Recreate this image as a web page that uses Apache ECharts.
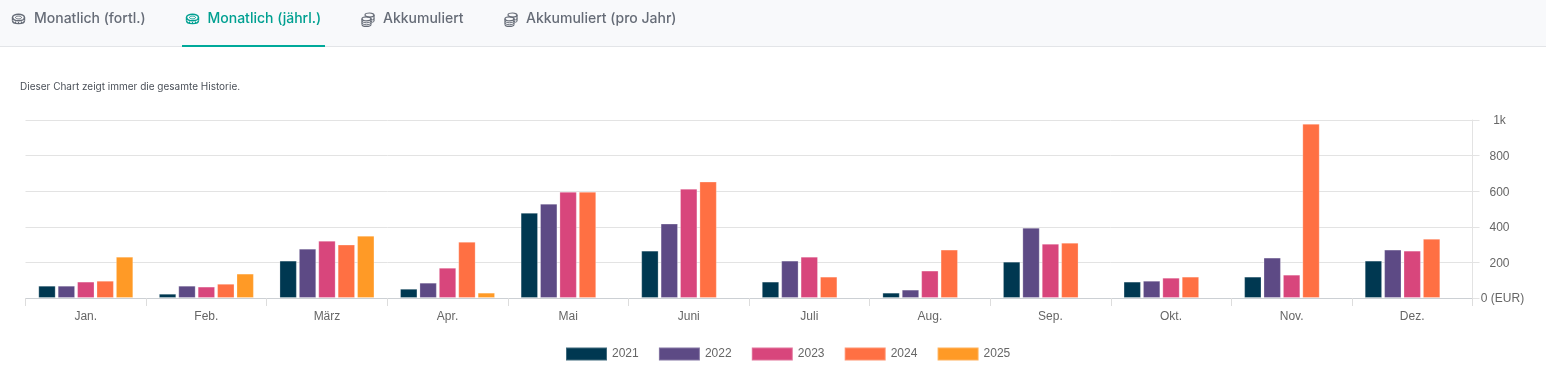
<!DOCTYPE html>
<html><head><meta charset="utf-8">
<style>html,body{margin:0;padding:0;background:#fff}#c{width:1546px;height:385px}</style>
<script src="https://cdn.jsdelivr.net/npm/echarts@6/dist/echarts.min.js"></script>
</head><body><div id="c"></div>
<script>
const categories = ['Jan.','Feb.','März','Apr.','Mai','Juni','Juli','Aug.','Sep.','Okt.','Nov.','Dez.'];
const s2021 = [69,24,210,52,479,266,92,30,204,92,120,210];
const s2022 = [69,69,277,86,530,418,210,47,395,97,227,272];
const s2023 = [92,64,322,170,597,614,232,154,305,114,131,266];
const s2024 = [97,80,300,316,597,654,120,272,311,120,979,333];
const s2025 = [232,137,350,30,null,null,null,null,null,null,null,null];
const years = ['2021','2022','2023','2024','2025'];
const colors = ['#003851','#5d4a85','#d8467c','#ff7043','#ff9a26'];
const tabs = ['Monatlich (fortl.)','Monatlich (jährl.)','Akkumuliert','Akkumuliert (pro Jahr)'];
const note = 'Dieser Chart zeigt immer die gesamte Historie.';

const FONT = 'Inter';
const st=(col,w)=>({fill:'none',stroke:col,lineWidth:w});
const ell=(cx,cy,rx,ry,col,w)=>({type:'ellipse',shape:{cx,cy,rx,ry},style:st(col,w)});
const ln=(x1,y1,x2,y2,col,w)=>({type:'line',shape:{x1,y1,x2,y2},style:st(col,w)});
const cup=(x1,x2,y,d,col,w)=>({type:'bezierCurve',shape:{x1,y1:y,x2,y2:y,cpx1:x1,cpy1:y+d,cpx2:x2,cpy2:y+d},style:st(col,w)});
const coin=(x,col)=>({type:'group',x:x,y:19,silent:true,children:[
  ell(0,-1.5,6,3.2,col,1.4),ell(0,-1.5,3,1.4,col,1),
  ln(-6,-1.5,-6,1.5,col,1.4),ln(6,-1.5,6,1.5,col,1.4),cup(-6,6,1.5,4.2,col,1.4),
  ln(-3,2.5,-3,4,col,1),ln(0,3,0,4.6,col,1),ln(3,2.5,3,4,col,1)
]});
const stack=(x,col)=>({type:'group',x:x,y:19,silent:true,children:[
  ell(1.5,-4,4.5,2,col,1.2),ln(6,-4,6,2,col,1.2),cup(3,6,-.4,1.6,col,1),cup(3,6,2,1.6,col,1),
  ell(-1.5,-.2,4.5,2,col,1.2),ln(-6,-.2,-6,5.5,col,1.2),ln(3,-.2,3,5.5,col,1.2),
  cup(-6,3,1.8,2.6,col,1),cup(-6,3,3.8,2.6,col,1),cup(-6,3,5.5,2.6,col,1.2)
]});
const GREY='#666c77', TEAL='#00a091';
const graphics = [
  {type:'rect',silent:true,z:0,shape:{x:0,y:0,width:1546,height:46},style:{fill:'#f8f9fb'}},
  {type:'rect',silent:true,z:0,shape:{x:0,y:46,width:1546,height:1},style:{fill:'#e3e5e8'}},
  {type:'rect',silent:true,z:1,shape:{x:182,y:45,width:143,height:2},style:{fill:'#00a99a'}},
  coin(18.5,GREY),coin(192.5,TEAL),stack(368,GREY),stack(511,GREY),
  {type:'text',silent:true,x:34,y:19,style:{text:tabs[0],font:'500 14px '+FONT,fill:GREY,verticalAlign:'middle'}},
  {type:'text',silent:true,x:207.5,y:19,style:{text:tabs[1],font:'500 14px '+FONT,fill:TEAL,verticalAlign:'middle'}},
  {type:'text',silent:true,x:383,y:19,style:{text:tabs[2],font:'500 14px '+FONT,fill:GREY,verticalAlign:'middle'}},
  {type:'text',silent:true,x:526,y:19,style:{text:tabs[3],font:'500 14px '+FONT,fill:GREY,verticalAlign:'middle'}},
  {type:'text',silent:true,x:20,y:87,style:{text:note,font:'400 10px '+FONT,fill:'#4a5058',verticalAlign:'middle'}}
];
const all=[s2021,s2022,s2023,s2024,s2025];
const chart = echarts.init(document.getElementById('c'));
chart.setOption({
  animation:false,
  textStyle:{fontFamily:'"Liberation Sans", Arial, sans-serif'},
  graphic:graphics,
  legend:{
    top:341.5,left:560,itemWidth:41,itemHeight:13,itemGap:19.2,icon:'rect',selectedMode:false,
    data:years,textStyle:{color:'#666',fontSize:12,fontFamily:'"Liberation Sans"'}
  },
  grid:{left:25.5,right:73.5,top:120,bottom:87,containLabel:false},
  xAxis:{type:'category',data:categories,boundaryGap:true,
    axisLine:{lineStyle:{color:'#ccd0d4',width:1}},
    axisTick:{show:true,alignWithLabel:false,length:8,lineStyle:{color:'#ddd'}},
    axisLabel:{color:'#666',fontSize:12,margin:13,fontFamily:'"Liberation Sans"'}},
  yAxis:{type:'value',position:'right',min:0,max:1000,interval:200,
    axisLine:{show:true,lineStyle:{color:'#e3e3e3'}},
    axisTick:{show:true,length:7,lineStyle:{color:'#e3e3e3'}},
    splitLine:{lineStyle:{color:'#e3e3e3'}},
    axisLabel:{color:'#666',fontSize:12,margin:27,align:'center',fontFamily:'"Liberation Sans"',
      padding:[2,0,0,0],
      formatter:v=>v===0?'{z|0 (EUR)}':v===1000?'1k':String(v),
      rich:{z:{color:'#666',fontSize:12,fontFamily:'"Liberation Sans"',padding:[0,0,0,6]}}}},
  series:years.map((y,i)=>({
    name:y,type:'bar',data:all[i],barWidth:17.4,barGap:'11.5%',
    itemStyle:{color:colors[i],borderColor:'rgba(255,255,255,0.25)',borderWidth:1}
  }))
});
</script></body></html>
